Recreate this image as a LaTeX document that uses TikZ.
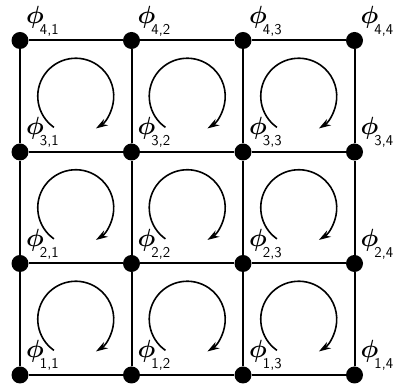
\documentclass[tikz,border=0pt]{standalone}
\usepackage{amsmath,amssymb}
\usetikzlibrary{arrows.meta,calc}

\begin{document}
\begin{tikzpicture}[x=1pt, y=1pt,
  dot/.style={circle, fill=black, inner sep=0pt, minimum size=17pt},
  lbl/.style={inner sep=0pt, font=\Huge},
  gridline/.style={line width=2pt},
  spin/.style={line width=1.6pt, -{Stealth[length=12pt,width=7.5pt]}}]
\def\D{111.5}
\def\R{38}
\useasboundingbox (0,0) rectangle (397,387);
\foreach \i in {1,...,4}{%
  \foreach \j in {1,...,4}{%
    \node[dot] (n\i\j) at ({20+(\j-1)*\D},{12+(\i-1)*\D}) {};
    \node[lbl, anchor=base west] (l\i\j) at ([shift={(6,17)}]n\i\j.center)
      {$\boldsymbol{\phi}$\hspace{-4pt}\raisebox{-11pt}{\fontsize{15}{15}\selectfont\sffamily \i,\j}};}}
\foreach \i in {1,...,4}{%
  \foreach \j/\k in {1/2,2/3,3/4}{%
    \draw[gridline] (n\i\j) -- (n\i\k);
    \draw[gridline] (n\j\i) -- (n\k\i);}}
\foreach \i [evaluate=\i as \k using int(\i+1)] in {1,2,3}{%
  \foreach \j [evaluate=\j as \l using int(\j+1)] in {1,2,3}{%
    \coordinate (c\i\j) at ($(n\i\j)!0.5!(n\k\l)$);
    \draw[spin] ([shift={(235:\R)}]c\i\j) arc[start angle=235, end angle=-58, radius=\R];}}
\end{tikzpicture}
\end{document}
